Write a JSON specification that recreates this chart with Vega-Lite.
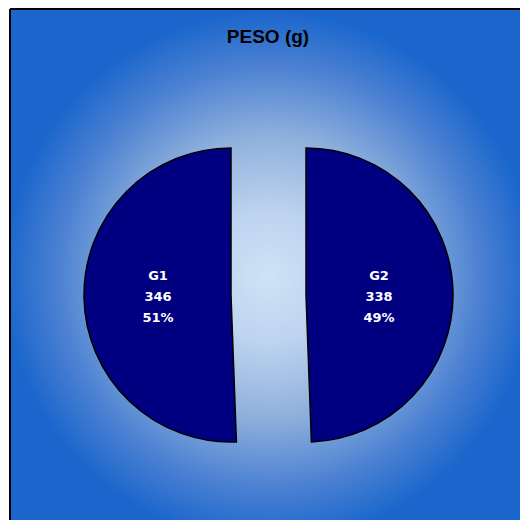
{
  "$schema": "https://vega.github.io/schema/vega-lite/v6.json",
  "width": 510,
  "height": 511,
  "autosize": {"type": "none"},
  "padding": {"left": 10, "top": 9, "right": 0, "bottom": 0},
  "background": "white",
  "title": {
    "text": "PESO (g)",
    "font": "Liberation Sans",
    "fontSize": 19,
    "fontWeight": "bold",
    "color": "black",
    "anchor": "middle",
    "frame": "group",
    "offset": -54,
    "dx": 3,
    "baseline": "alphabetic"
  },
  "config": {"view": {"stroke": null}},
  "data": {
    "values": [
      {"group": "G2", "value": 338, "pct": "49%", "lines": ["G2", "338", "49%"]},
      {"group": "G1", "value": 346, "pct": "51%", "lines": ["G1", "346", "51%"]}
    ]
  },
  "layer": [
    {
      "data": {"values": [{"panel": "PESO (g)"}]},
      "mark": {
        "type": "rect",
        "strokeWidth": 0,
        "fill": {
          "gradient": "radial",
          "x1": 0.508, "y1": 0.524, "r1": 0,
          "x2": 0.508, "y2": 0.524, "r2": 0.52,
          "stops": [
            {"offset": 0, "color": "#cfe2f6"},
            {"offset": 0.25, "color": "#bdd3ef"},
            {"offset": 0.53, "color": "#8fb0dc"},
            {"offset": 0.8, "color": "#4a80d2"},
            {"offset": 1, "color": "#1a66cc"}
          ]
        }
      },
      "encoding": {
        "x": {"value": 0},
        "x2": {"value": "width"},
        "y": {"value": 0},
        "y2": {"value": "height"}
      }
    },
    {
      "data": {"values": [{"panel": "PESO (g)"}]},
      "mark": {"type": "rule", "color": "black", "strokeWidth": 2},
      "encoding": {
        "x": {"value": 0},
        "y": {"value": 0},
        "y2": {"value": "height"}
      }
    },
    {
      "data": {"values": [{"panel": "PESO (g)"}]},
      "mark": {"type": "rule", "color": "black", "strokeWidth": 2},
      "encoding": {
        "x": {"value": 0},
        "x2": {"value": "width"},
        "y": {"value": 0}
      }
    },
    {
      "mark": {"type": "arc", "radius": 147, "fill": "#000080", "stroke": "black", "strokeWidth": 1.5, "xOffset": -34, "yOffset": 30.5},
      "encoding": {
        "theta": {"field": "value", "type": "quantitative", "stack": true},
        "order": {"field": "group", "type": "nominal", "sort": "descending"},
        "opacity": {"condition": {"test": "datum.group === 'G1'", "value": 1}, "value": 0}
      }
    },
    {
      "mark": {"type": "arc", "radius": 147, "fill": "#000080", "stroke": "black", "strokeWidth": 1.5, "xOffset": 41, "yOffset": 30.5},
      "encoding": {
        "theta": {"field": "value", "type": "quantitative", "stack": true},
        "order": {"field": "group", "type": "nominal", "sort": "descending"},
        "opacity": {"condition": {"test": "datum.group === 'G2'", "value": 1}, "value": 0}
      }
    },
    {
      "mark": {"type": "text", "radius": 73, "xOffset": -34, "yOffset": 30.5, "dy": -20, "color": "white", "font": "DejaVu Sans", "fontWeight": "bold", "fontSize": 13, "lineHeight": 21},
      "encoding": {
        "theta": {"field": "value", "type": "quantitative", "stack": true},
        "order": {"field": "group", "type": "nominal", "sort": "descending"},
        "text": {"field": "lines", "type": "nominal"},
        "opacity": {"condition": {"test": "datum.group === 'G1'", "value": 1}, "value": 0}
      }
    },
    {
      "mark": {"type": "text", "radius": 73, "xOffset": 41, "yOffset": 30.5, "dy": -18, "color": "white", "font": "DejaVu Sans", "fontWeight": "bold", "fontSize": 13, "lineHeight": 21},
      "encoding": {
        "theta": {"field": "value", "type": "quantitative", "stack": true},
        "order": {"field": "group", "type": "nominal", "sort": "descending"},
        "text": {"field": "lines", "type": "nominal"},
        "opacity": {"condition": {"test": "datum.group === 'G2'", "value": 1}, "value": 0}
      }
    }
  ]
}
